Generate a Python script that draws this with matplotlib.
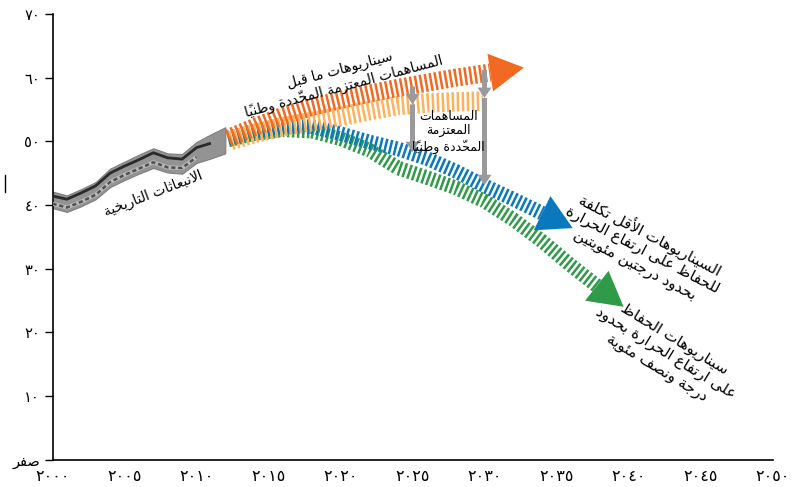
import numpy as np
import matplotlib
matplotlib.use("Agg")
import matplotlib.pyplot as plt
from matplotlib.patches import Polygon, FancyArrowPatch
from matplotlib.lines import Line2D

plt.rcParams["font.family"] = ["DejaVu Sans"]
plt.rcParams["lines.scale_dashes"] = False

# ---------------------------------------------------------------- data
hist_years = [2000, 2001, 2002, 2003, 2004, 2005, 2006, 2007, 2008, 2009, 2010, 2011, 2012]
hist_upper = [42.1, 41.5, 42.5, 43.6, 45.7, 46.8, 47.9, 48.9, 48.1, 48.0, 49.9, 51.1, 52.2]
hist_lower = [39.5, 38.9, 39.8, 40.9, 42.8, 43.9, 44.9, 45.8, 45.1, 44.9, 46.6, 47.3, 48.1]
hist_dark = [41.4, 40.9, 41.9, 43.0, 45.0, 46.1, 47.1, 48.2, 47.4, 47.2, 49.0, 49.7]
hist_dashed = [40.2, 39.6, 40.5, 41.6, 43.6, 44.7, 45.7, 46.7, 45.9, 45.8, 47.5]

# pre-INDC scenarios (dark orange)
pre_years = [2012.2, 2014, 2016, 2018, 2020, 2022, 2024, 2026, 2028, 2030.4]
pre_values = [50.5, 52.2, 54.0, 55.4, 56.5, 57.5, 58.4, 59.2, 60.0, 60.8]

# INDC scenarios (light orange)
indc_years = [2012.2, 2014, 2016, 2018, 2020, 2022, 2024, 2026, 2028, 2029.9]
indc_values = [50.0, 51.2, 52.3, 53.1, 53.9, 54.8, 55.6, 56.0, 56.2, 56.3]

# least-cost 2 degree scenarios (blue)
two_years = [2012.2, 2014, 2016, 2018, 2020, 2022, 2024, 2026, 2028, 2030, 2032, 2034]
two_values = [50.5, 51.6, 52.3, 52.3, 51.2, 49.9, 48.8, 47.3, 45.3, 43.0, 40.9, 38.7]

# 1.5 degree scenarios (green)
one5_years = [2012.2, 2014, 2016, 2018, 2020, 2022, 2024, 2026, 2028, 2030, 2032, 2034, 2036, 2037.8]
one5_values = [50.2, 51.2, 51.8, 51.6, 50.4, 48.6, 45.8, 44.3, 42.7, 40.6, 37.7, 34.3, 30.5, 27.3]

# INDC gap arrows
gap_years = [2025, 2030]
gap_top = [58.6, 61.2]
gap_mid = [55.8, 56.8]
gap_bottom = [48.3, 43.1]

x_ticks = [2000, 2005, 2010, 2015, 2020, 2025, 2030, 2035, 2040, 2045, 2050]
x_labels = ["٢٠٠٠", "٢٠٠٥", "٢٠١٠", "٢٠١٥", "٢٠٢٠", "٢٠٢٥", "٢٠٣٠", "٢٠٣٥", "٢٠٤٠", "٢٠٤٥", "٢٠٥٠"]
y_ticks = [0, 10, 20, 30, 40, 50, 60, 70]
y_labels = ["صفر", "١٠", "٢٠", "٣٠", "٤٠", "٥٠", "٦٠", "٧٠"]

# ---------------------------------------------------------------- arabic shaping
_DUAL = {
    "ئ": 0xFE89, "ب": 0xFE8F, "ت": 0xFE95, "ث": 0xFE99, "ج": 0xFE9D, "ح": 0xFEA1,
    "خ": 0xFEA5, "س": 0xFEB1, "ش": 0xFEB5, "ص": 0xFEB9, "ض": 0xFEBD, "ط": 0xFEC1,
    "ظ": 0xFEC5, "ع": 0xFEC9, "غ": 0xFECD, "ف": 0xFED1, "ق": 0xFED5, "ك": 0xFED9,
    "ل": 0xFEDD, "م": 0xFEE1, "ن": 0xFEE5, "ه": 0xFEE9, "ي": 0xFEF1,
}
_RIGHT = {
    "آ": 0xFE81, "أ": 0xFE83, "ؤ": 0xFE85, "إ": 0xFE87, "ا": 0xFE8D, "ة": 0xFE93,
    "د": 0xFEA9, "ذ": 0xFEAB, "ر": 0xFEAD, "ز": 0xFEAF, "و": 0xFEED, "ى": 0xFEEF,
}
_LAM_ALEF = {"آ": 0xFEF5, "أ": 0xFEF7, "إ": 0xFEF9, "ا": 0xFEFB}
_MARKS = {chr(c) for c in range(0x064B, 0x0653)}
_DIGITS = set("٠١٢٣٤٥٦٧٨٩0123456789")


def _shape_line(line):
    if all(ch in _DIGITS for ch in line):
        return line
    clusters = []
    for ch in line:
        if ch in _MARKS and clusters:
            clusters[-1][1].append(ch)
        else:
            clusters.append([ch, []])
    out = []
    prev_joins = False
    i = 0
    n = len(clusters)
    while i < n:
        ch, marks = clusters[i]
        nxt = clusters[i + 1][0] if i + 1 < n else ""
        if ch == "ل" and nxt in _LAM_ALEF:
            code = _LAM_ALEF[nxt] + (1 if prev_joins else 0)
            out.append(chr(code) + "".join(marks + clusters[i + 1][1]))
            prev_joins = False
            i += 2
            continue
        if ch in _DUAL:
            base = _DUAL[ch]
            nxt_ok = nxt in _DUAL or nxt in _RIGHT
            if prev_joins and nxt_ok:
                code = base + 3
            elif prev_joins:
                code = base + 1
            elif nxt_ok:
                code = base + 2
            else:
                code = base
            out.append(chr(code) + "".join(marks))
            prev_joins = nxt_ok
        elif ch in _RIGHT:
            out.append(chr(_RIGHT[ch] + (1 if prev_joins else 0)) + "".join(marks))
            prev_joins = False
        else:
            out.append(ch + "".join(marks))
            prev_joins = False
        i += 1
    return "".join(reversed(out))


def ar(text):
    return "\n".join(_shape_line(l) for l in text.split("\n"))


# ---------------------------------------------------------------- colours
DARK_ORANGE = "#F26A22"
LIGHT_ORANGE = "#FDB25E"
BLUE = "#0A78BE"
GREEN = "#2F9A48"
ARROW_GREY = "#9A9A9D"

# ---------------------------------------------------------------- figure
fig = plt.figure(figsize=(7.98, 4.87), dpi=100)
ax = fig.add_axes([52.5 / 798, 1 - 459.5 / 487, 720 / 798, 445.5 / 487])
ax.set_xlim(2000, 2050)
ax.set_ylim(0, 70)

for side in ("top", "right"):
    ax.spines[side].set_visible(False)
for side in ("left", "bottom"):
    ax.spines[side].set_linewidth(1.2)

ax.set_xticks(x_ticks)
ax.set_xticklabels(x_labels)
ax.set_yticks(y_ticks)
ax.set_yticklabels([ar(t) for t in y_labels])
ax.tick_params(axis="y", length=6, width=1, pad=3, labelsize=10.5)
ax.tick_params(axis="x", length=0, pad=7, labelsize=11.5)

# historic emissions band
ax.fill_between(hist_years, hist_lower, hist_upper, color="#939393", lw=0.8,
                edgecolor="#808080", zorder=2)
ax.plot(hist_years[:len(hist_dashed)], hist_dashed, color="#B8B8B8", lw=3.0,
        solid_capstyle="butt", zorder=3)
ax.plot(hist_years[:len(hist_dashed)], hist_dashed, color="#505050", lw=1.8,
        dashes=(3, 2), zorder=3)
ax.plot(hist_years[:len(hist_dark)], hist_dark, color="#2a2a2a", lw=2.0,
        solid_capstyle="butt", zorder=3)


def striped(xs, ys, color, width, offset=0.0, z=4):
    ax.plot(xs, ys, color=color, lw=width, linestyle=(offset, (1.8, 1.8)),
            dash_capstyle="butt", solid_joinstyle="miter", zorder=z)


def head(xs, ys, color, length=34, half=19, z=5):
    pts = ax.transData.transform(np.column_stack([xs[-2:], ys[-2:]]))
    d = pts[1] - pts[0]
    d = d / np.hypot(*d)
    nrm = np.array([-d[1], d[0]])
    base = pts[1]
    tri = np.array([base + nrm * half, base + d * length, base - nrm * half])
    ax.add_patch(Polygon(ax.transData.inverted().transform(tri), closed=True,
                         facecolor=color, edgecolor="none", zorder=z))


striped(one5_years, one5_values, GREEN, 10.5, z=4)
striped(two_years, two_values, BLUE, 10.5, z=4.1)
striped(indc_years, indc_values, LIGHT_ORANGE, 14, offset=1.8, z=4.2)
striped(pre_years, pre_values, DARK_ORANGE, 13, z=4.3)

head(one5_years, one5_values, GREEN)
head(two_years, two_values, BLUE)
head(pre_years, pre_values, DARK_ORANGE)

# INDC gap arrows
for yr, top, mid, bot in zip(gap_years, gap_top, gap_mid, gap_bottom):
    for y0, y1 in ((top, mid), (mid, bot)):
        ax.add_patch(FancyArrowPatch((yr, y0), (yr, y1),
                                     arrowstyle="simple,head_length=0.75,head_width=1.0,tail_width=0.36",
                                     mutation_scale=10, shrinkA=0, shrinkB=0,
                                     facecolor=ARROW_GREY, edgecolor="none", zorder=6))

# labels
ax.text(2006.98, 41.7, ar("الانبعاثات التاريخية"), rotation=21, rotation_mode="anchor",
        ha="center", va="center", fontsize=10, zorder=7)
ax.text(2020.1, 59.9, ar("سيناريوهات ما قبل\nالمساهمات المعتزمة المحدّدة وطنياً"),
        rotation=15, rotation_mode="anchor", ha="center", va="center",
        multialignment="center", fontsize=10, linespacing=1.1, zorder=7)
ax.text(2027.5, 51.5, ar("المساهمات\nالمعتزمة\nالمحدّدة وطنياً"),
        ha="center", va="center", multialignment="center", fontsize=9,
        linespacing=1.15, zorder=7)
ax.text(2041.0, 33.1, ar("السيناريوهات الأقل تكلفة\nللحفاظ على ارتفاع الحرارة\nبحدود درجتين مئويتين"),
        rotation=-27.5, rotation_mode="anchor", ha="center", va="center",
        multialignment="center", fontsize=11, linespacing=1.1, zorder=7)
ax.text(2042.6, 16.7, ar("سيناريوهات الحفاظ\nعلى ارتفاع الحرارة بحدود\nدرجة ونصف مئوية"),
        rotation=-31.5, rotation_mode="anchor", ha="center", va="center",
        multialignment="center", fontsize=11, linespacing=1.1, zorder=7)

# short mark left of the y axis
fig.add_artist(Line2D([5 / 798, 5 / 798], [1 - 175 / 487, 1 - 192 / 487],
                      transform=fig.transFigure, color="black", lw=1))

fig.savefig("out.png", dpi=100)
